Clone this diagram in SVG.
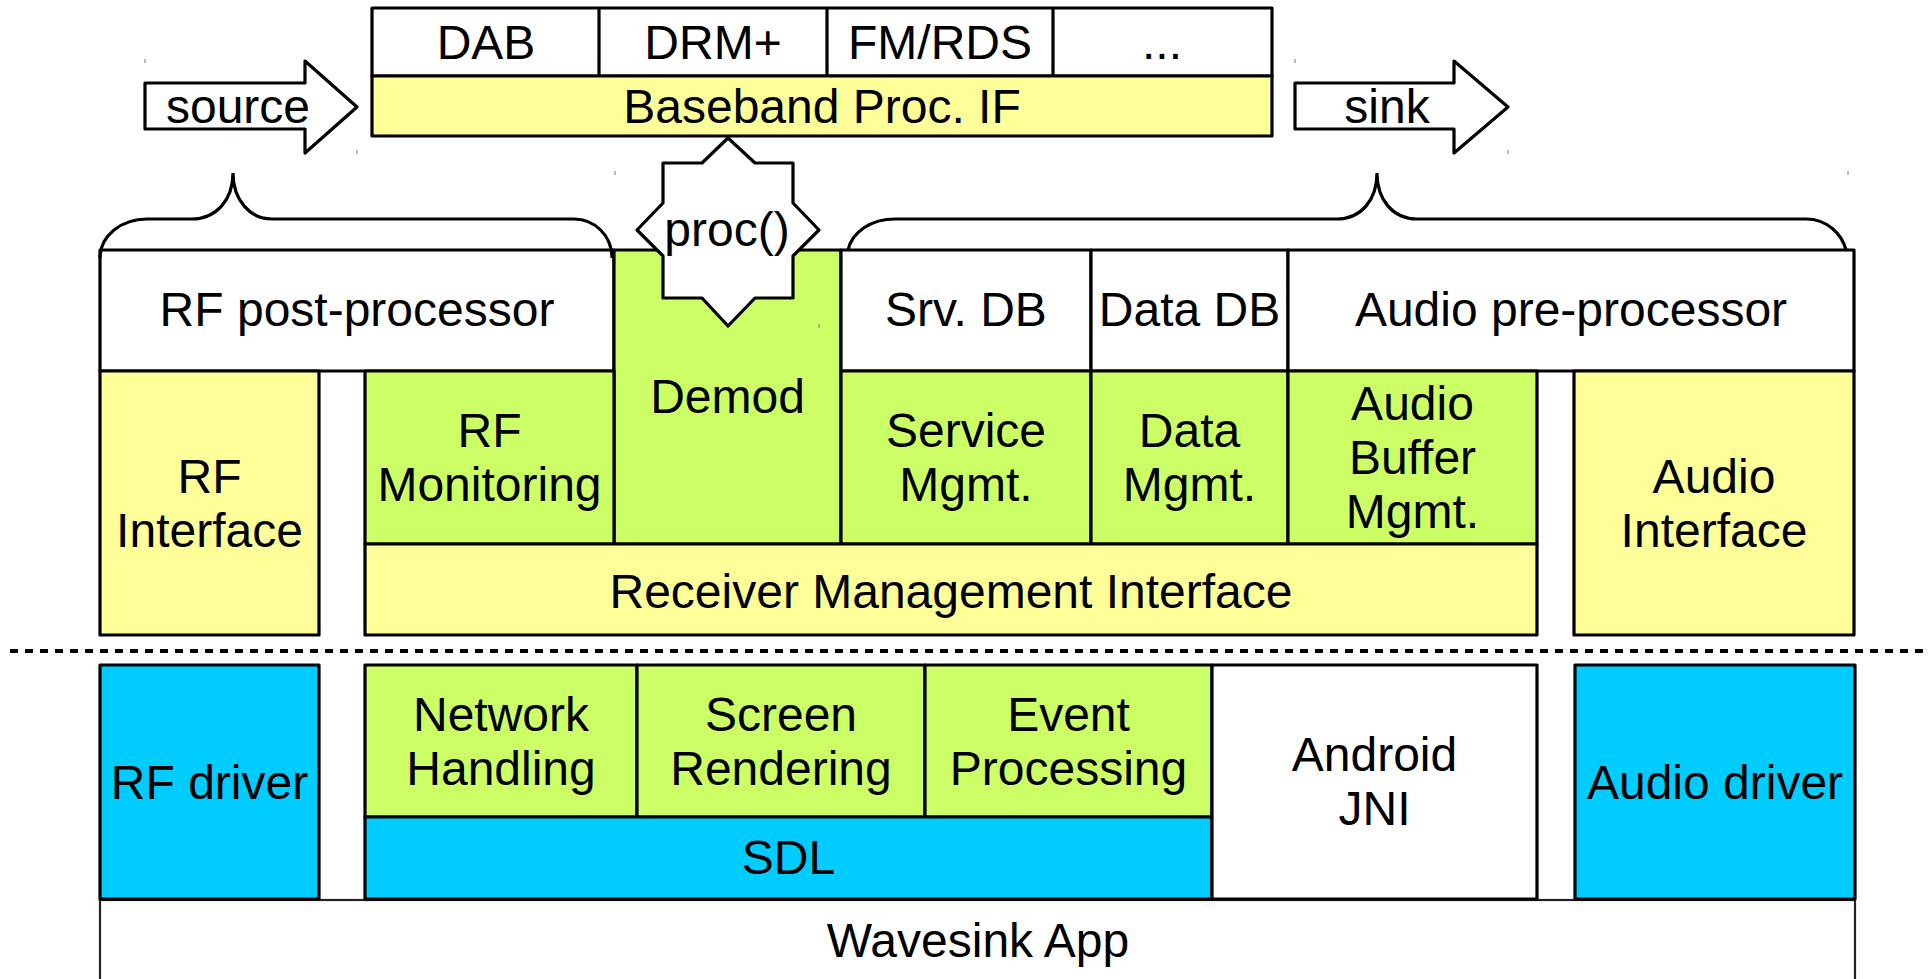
<svg xmlns="http://www.w3.org/2000/svg" width="1929" height="979" viewBox="0 0 1929 979">
<style>
.b{stroke:#000;stroke-width:3.2;stroke-linejoin:round}
.w{fill:#fff}
.y{fill:#ffff99}
.g{fill:#ccff66}
.c{fill:#00ccff}
text{font-family:"Liberation Sans",Arial,sans-serif;font-size:48px;fill:#000;text-anchor:middle}
.br{fill:none;stroke:#000;stroke-width:3.2}
.tk{stroke:#777;stroke-width:1}
</style>
<rect width="1929" height="979" fill="#fff"/>

<g id="wavesink-app"><rect x="100" y="900" width="1755" height="100" fill="#fff" stroke="#222" stroke-width="2.2"/><text x="978" y="957">Wavesink App</text></g>

<g id="rf-driver"><rect class="b c" x="100" y="665" width="219" height="234"/><text x="209.5" y="799">RF driver</text></g>
<g id="network-handling"><rect class="b g" x="365" y="665" width="272" height="152"/><text x="501" y="731">Network</text><text x="501" y="785">Handling</text></g>
<g id="screen-rendering"><rect class="b g" x="637" y="665" width="288" height="152"/><text x="781" y="731">Screen</text><text x="781" y="785">Rendering</text></g>
<g id="event-processing"><rect class="b g" x="925" y="665" width="287" height="152"/><text x="1068.5" y="731">Event</text><text x="1068.5" y="785">Processing</text></g>
<g id="sdl"><rect class="b c" x="365" y="817" width="847" height="82"/><text x="788.5" y="874">SDL</text></g>
<g id="android-jni"><rect class="b w" x="1212" y="665" width="325" height="234"/><text x="1374.5" y="771">Android</text><text x="1374.5" y="825">JNI</text></g>
<g id="audio-driver"><rect class="b c" x="1575" y="665" width="280" height="234"/><text x="1715" y="799">Audio driver</text></g>

<line x1="10" y1="651" x2="1929" y2="651" stroke="#000" stroke-width="4" stroke-dasharray="8 7"/>

<g id="rf-post-processor"><rect class="b w" x="100" y="250" width="514" height="121"/><text x="357" y="326">RF post-processor</text></g>
<g id="demod"><rect class="b g" x="614" y="250" width="227" height="294"/><text x="727.5" y="413">Demod</text></g>
<g id="srv-db"><rect class="b w" x="841" y="250" width="250" height="121"/><text x="966" y="326">Srv. DB</text></g>
<g id="data-db"><rect class="b w" x="1091" y="250" width="197" height="121"/><text x="1189.5" y="326">Data DB</text></g>
<g id="audio-pre-processor"><rect class="b w" x="1288" y="250" width="566" height="121"/><text x="1571" y="326">Audio pre-processor</text></g>
<g id="rf-interface"><rect class="b y" x="100" y="371" width="219" height="264"/><text x="209.5" y="493">RF</text><text x="209.5" y="547">Interface</text></g>
<g id="rf-monitoring"><rect class="b g" x="365" y="371" width="249" height="173"/><text x="489.5" y="447">RF</text><text x="489.5" y="501">Monitoring</text></g>
<g id="service-mgmt"><rect class="b g" x="841" y="371" width="250" height="173"/><text x="966" y="447">Service</text><text x="966" y="501">Mgmt.</text></g>
<g id="data-mgmt"><rect class="b g" x="1091" y="371" width="197" height="173"/><text x="1189.5" y="447">Data</text><text x="1189.5" y="501">Mgmt.</text></g>
<g id="audio-buffer-mgmt"><rect class="b g" x="1288" y="371" width="249" height="173"/><text x="1412.5" y="420">Audio</text><text x="1412.5" y="474">Buffer</text><text x="1412.5" y="528">Mgmt.</text></g>
<g id="receiver-mgmt-if"><rect class="b y" x="365" y="544" width="1172" height="91"/><text x="951" y="608">Receiver Management Interface</text></g>
<g id="audio-interface"><rect class="b y" x="1574" y="371" width="280" height="264"/><text x="1714" y="493">Audio</text><text x="1714" y="547">Interface</text></g>

<g id="baseband">
<rect class="b w" x="372" y="8" width="900" height="68"/>
<rect class="b y" x="372" y="76" width="900" height="60"/>
<line class="b" x1="599" y1="8" x2="599" y2="76"/>
<line class="b" x1="827" y1="8" x2="827" y2="76"/>
<line class="b" x1="1053" y1="8" x2="1053" y2="76"/>
<text x="486" y="59">DAB</text>
<text x="713" y="59">DRM+</text>
<text x="940" y="59">FM/RDS</text>
<text x="1162" y="59">...</text>
<text x="822" y="123">Baseband Proc. IF</text>
</g>

<g id="source"><polygon class="b w" points="145,83 305,83 305,61 357,107 305,153 305,129 145,129"/><text x="238" y="123">source</text></g>
<g id="sink"><polygon class="b w" points="1295,83 1454,83 1454,61 1508,107 1454,153 1454,129 1295,129"/><text x="1387" y="123">sink</text></g>

<g id="connectors">
<path class="br" d="M100,258 C100,236 121,219 147,219 L192,219 C216,219 233,200 233,173 C233,200 250,219 272,219 L574,219 C595,219 612,236 612,258"/>
<path class="br" d="M848,250 C852,232 871,219 895,219 L1337,219 C1361,219 1377,200 1377,173 C1377,200 1393,219 1417,219 L1806,219 C1827,219 1842,234 1846,250"/>
</g>

<g id="proc"><polygon class="b w" points="728,138 755,163 793,163 793,203 819,230 793,256 793,298 755,298 728,326 702,298 663,298 663,256 637,230 663,203 663,163 702,163"/><text x="727" y="246">proc()</text></g>

<g id="ticks">
<line class="tk" x1="145" y1="59" x2="145" y2="63"/>
<line class="tk" x1="357" y1="150" x2="357" y2="154"/>
<line class="tk" x1="615" y1="171" x2="615" y2="175"/>
<line class="tk" x1="1295" y1="59" x2="1295" y2="63"/>
<line class="tk" x1="1508" y1="150" x2="1508" y2="154"/>
<line class="tk" x1="1848" y1="171" x2="1848" y2="175"/>
<line class="tk" x1="819" y1="324" x2="819" y2="328"/>
</g>
</svg>
